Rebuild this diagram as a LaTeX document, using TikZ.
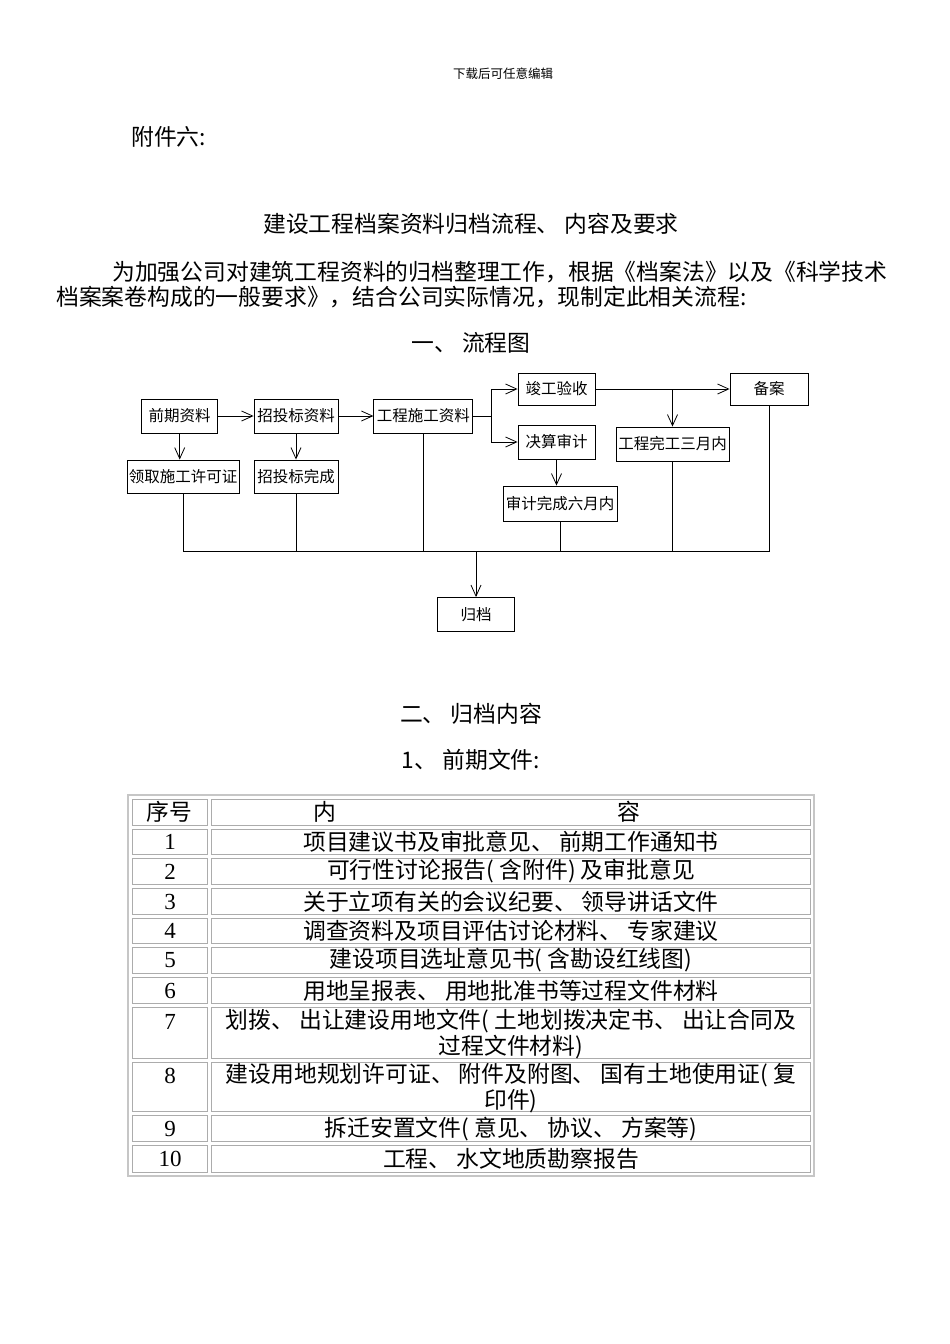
\documentclass[tikz,border=0pt]{standalone}
\usepackage{fontspec}
\setmainfont{Noto Sans CJK SC}
\newfontfamily\numfont{Liberation Serif}
\usetikzlibrary{arrows.meta,calc}
\begin{document}
\begin{tikzpicture}[x=1pt,y=-1pt,
  box/.style={draw, line width=0.9pt, inner sep=0pt, font=\fontsize{15.5}{18}\selectfont},
  conn/.style={line width=0.9pt},
  arr/.style={line width=0.9pt, -{Straight Barb[length=11pt,width=10pt,line width=0.8pt]}},
  txt/.style={inner sep=0pt, font=\fontsize{22.8}{26}\selectfont},
  small/.style={inner sep=0pt, font=\fontsize{12.5}{14}\selectfont},
  num/.style={inner sep=0pt, font=\numfont\fontsize{23}{26}\selectfont},
  cell/.style={draw=gray!65, line width=0.9pt},
  frame/.style={draw=gray!45, line width=2.2pt}
]
\useasboundingbox[fill=white] (0,0) rectangle (950,1344);

% ---------- heading texts ----------
\node[small] (hdr) at (503,74) {下载后可任意编辑};
\node[txt, anchor=west] (fj) at (131,137) {附件六:};
\node[txt] (title) at (471,224) {建设工程档案资料归档流程、 内容及要求};
\node[txt, anchor=west] (p1) at (112,272) {为加强公司对建筑工程资料的归档整理工作，根据《档案法》以及《科学技术};
\node[txt, anchor=west] (p2) at (56,297) {档案案卷构成的一般要求》，结合公司实际情况，现制定此相关流程:};
\node[txt] (s1) at (471,343) {一、 流程图};

% ---------- flowchart ----------
\node[box, minimum width=76, minimum height=34] (qq) at (179.7,416) {前期资料};
\node[box, minimum width=84, minimum height=34] (zt) at (296,416) {招投标资料};
\node[box, minimum width=99, minimum height=34] (gc) at (423.3,416) {工程施工资料};
\node[box, minimum width=112, minimum height=33] (lq) at (183,476.5) {领取施工许可证};
\node[box, minimum width=84, minimum height=33] (zw) at (296,476.5) {招投标完成};
\node[box, minimum width=77, minimum height=32] (jg) at (556.5,389) {竣工验收};
\node[box, minimum width=77, minimum height=34] (js) at (556.5,442) {决算审计};
\node[box, minimum width=114, minimum height=35] (sj) at (560,503.5) {审计完成六月内};
\node[box, minimum width=113, minimum height=34] (wg) at (672.5,444) {工程完工三月内};
\node[box, minimum width=78, minimum height=32] (ba) at (769,389) {备案};
\node[box, minimum width=77, minimum height=34] (gd) at (476,614.5) {归档};

\coordinate (br) at (491.7,416);
\coordinate (jn) at (672.5,389);
\coordinate (bus) at (476,551.7);

\draw[arr] (qq) -- (zt);
\draw[arr] (zt) -- (gc);
\draw[arr] (qq.south) -- (qq.south |- lq.north);
\draw[arr] (zt.south) -- (zt.south |- zw.north);
\draw[conn] (gc.east) -- (br);
\draw[arr] (br) |- (jg.west);
\draw[arr] (br) |- (js.west);
\draw[arr] (jg.east) -- (ba.west);
\draw[arr] (jn) -- (wg.north);
\draw[arr] (js.south) -- (js.south |- sj.north);

\draw[conn] (lq.south) -- (lq.south |- bus);
\draw[conn] (zw.south) -- (zw.south |- bus);
\draw[conn] (gc.south) -- (gc.south |- bus);
\draw[conn] (sj.south) -- (sj.south |- bus);
\draw[conn] (wg.south) -- (wg.south |- bus);
\draw[conn] (ba.south) -- (ba.south |- bus);
\draw[conn] (lq.south |- bus) -- (ba.south |- bus);
\draw[arr] (gd.north |- bus) -- (gd.north);

% ---------- section 2 ----------
\node[txt] (s2) at (471,714) {二、 归档内容};
\node[txt] (s21) at (471,760) {1、 前期文件:};

% ---------- table ----------
\draw[frame] (128,795) rectangle (814,1176);
\foreach \ya/\yb in {797/827, 827/856, 856/886, 886/916, 916/945, 945/975, 975/1005, 1005/1060, 1060/1113, 1113/1143, 1143/1174} {
  \draw[cell] (132,\ya+2) rectangle (207,\yb-1.5);
  \draw[cell] (211,\ya+2) rectangle (810,\yb-1.5);
}

\node[txt] (h1) at (169,812) {序号};
\node[txt] (h2) at (476.5,812) {内\hspace{281pt}容};

\node[num] (n1) at (170,842) {1};
\node[num] (n2) at (170,871.5) {2};
\node[num] (n3) at (170,901.5) {3};
\node[num] (n4) at (170,931) {4};
\node[num] (n5) at (170,960.5) {5};
\node[num] (n6) at (170,990.5) {6};
\node[num] (n7) at (170,1022) {7};
\node[num] (n8) at (170,1076) {8};
\node[num] (n9) at (170,1129) {9};
\node[num] (n10) at (170,1159) {10};

\node[txt] (t1) at (511,842) {项目建议书及审批意见、 前期工作通知书};
\node[txt] (t2) at (511,871.5) {可行性讨论报告(\ 含附件)\ 及审批意见};
\node[txt] (t3) at (511,901.5) {关于立项有关的会议纪要、 领导讲话文件};
\node[txt] (t4) at (511,931) {调查资料及项目评估讨论材料、 专家建议};
\node[txt] (t5) at (511,960.5) {建设项目选址意见书(\ 含勘设红线图)};
\node[txt] (t6) at (511,990.5) {用地呈报表、 用地批准书等过程文件材料};
\node[txt, align=center] (t7) at (511,1034) {划拨、 出让建设用地文件(\ 土地划拨决定书、 出让合同及\\过程文件材料)};
\node[txt, align=center] (t8) at (511,1088) {建设用地规划许可证、 附件及附图、 国有土地使用证(\ 复\\印件)};
\node[txt] (t9) at (511,1129) {拆迁安置文件(\ 意见、 协议、 方案等)};
\node[txt] (t10) at (511,1159) {工程、 水文地质勘察报告};
\end{tikzpicture}
\end{document}
